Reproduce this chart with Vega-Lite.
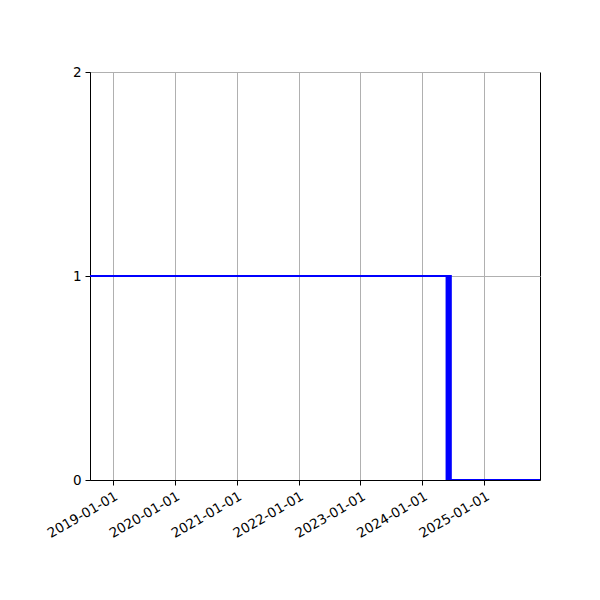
{
  "$schema": "https://vega.github.io/schema/vega-lite/v6.json",
  "width": 450,
  "height": 408,
  "autosize": {"type": "none"},
  "padding": {"left": 90, "top": 72, "right": 60, "bottom": 120},
  "background": "white",
  "config": {
    "font": "DejaVu Sans",
    "view": {"stroke": "black", "strokeWidth": 1},
    "axis": {
      "labelFont": "DejaVu Sans",
      "labelFontSize": 13.5,
      "labelColor": "black",
      "domainColor": "black",
      "tickColor": "black",
      "tickSize": 5,
      "gridColor": "#b0b0b0",
      "gridWidth": 1,
      "gridOpacity": 1,
      "labelOverlap": false,
      "labelBound": false,
      "labelFlush": false,
      "title": null
    }
  },
  "data": {
    "values": [
      {"i": 0, "date": "2018-08-20", "value": 1},
      {"i": 1, "date": "2024-05-23", "value": 1},
      {"i": 2, "date": "2024-05-23", "value": 0},
      {"i": 3, "date": "2024-05-28", "value": 0},
      {"i": 4, "date": "2024-05-28", "value": 1},
      {"i": 5, "date": "2024-06-02", "value": 1},
      {"i": 6, "date": "2024-06-02", "value": 0},
      {"i": 7, "date": "2024-06-07", "value": 0},
      {"i": 8, "date": "2024-06-07", "value": 1},
      {"i": 9, "date": "2024-06-11", "value": 1},
      {"i": 10, "date": "2024-06-11", "value": 0},
      {"i": 11, "date": "2024-06-14", "value": 0},
      {"i": 12, "date": "2024-06-14", "value": 1},
      {"i": 13, "date": "2024-06-17", "value": 1},
      {"i": 14, "date": "2024-06-17", "value": 0},
      {"i": 15, "date": "2025-11-25", "value": 0}
    ]
  },
  "mark": {"type": "line", "color": "#0000ff", "strokeWidth": 2, "clip": true},
  "encoding": {
    "x": {
      "field": "date",
      "type": "temporal",
      "scale": {
        "type": "utc",
        "domain": [
          {"year": 2018, "month": 8, "date": 20, "utc": true},
          {"year": 2025, "month": 11, "date": 25, "utc": true}
        ]
      },
      "axis": {
        "values": [
          {"year": 2019, "month": 1, "date": 1, "utc": true},
          {"year": 2020, "month": 1, "date": 1, "utc": true},
          {"year": 2021, "month": 1, "date": 1, "utc": true},
          {"year": 2022, "month": 1, "date": 1, "utc": true},
          {"year": 2023, "month": 1, "date": 1, "utc": true},
          {"year": 2024, "month": 1, "date": 1, "utc": true},
          {"year": 2025, "month": 1, "date": 1, "utc": true}
        ],
        "labelExpr": "utcFormat(datum.value, '%Y-%m-%d')",
        "labelAngle": -30,
        "labelAlign": "right",
        "labelBaseline": "top",
        "labelPadding": 4,
        "grid": true
      }
    },
    "y": {
      "field": "value",
      "type": "quantitative",
      "scale": {"domain": [0, 2], "nice": false, "zero": true},
      "axis": {"values": [0, 1, 2], "labelExpr": "format(datum.value, 'd')", "grid": true, "labelPadding": 4}
    },
    "order": {"field": "i", "type": "quantitative"}
  }
}
